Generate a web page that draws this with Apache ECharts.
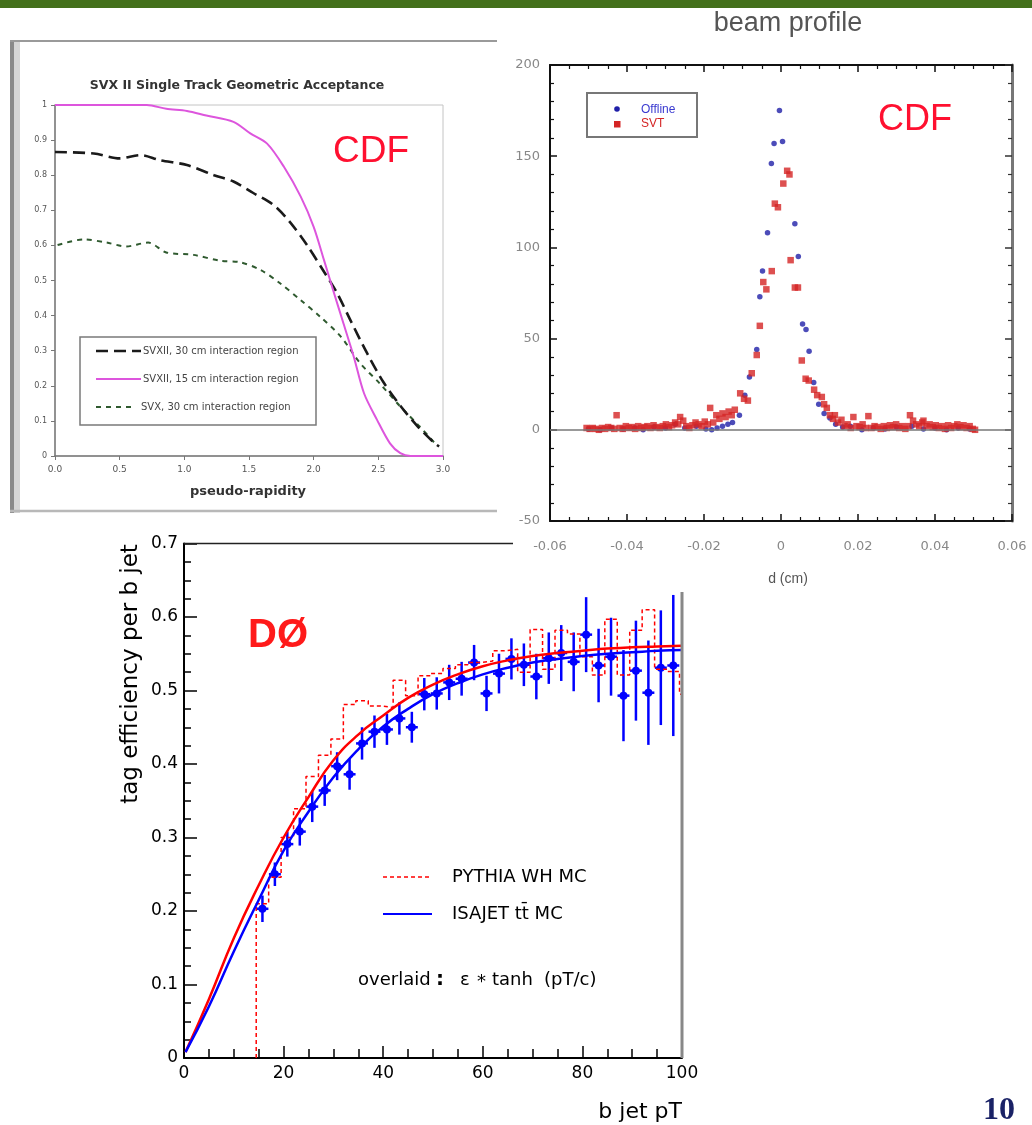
<!DOCTYPE html>
<html><head><meta charset="utf-8">
<script src="https://cdn.jsdelivr.net/npm/echarts@6.0.0/dist/echarts.min.js"></script>
<style>html,body{margin:0;padding:0;background:#fff}#c{width:1032px;height:1125px}</style>
</head><body><div id="c"></div><script>
// ---------- Chart 1: SVX II single track geometric acceptance ----------
var etaPink = [0, 0.3, 0.71, 0.86, 1.02, 1.17, 1.38, 1.51, 1.64, 1.77, 1.9, 2.0, 2.08, 2.15, 2.23, 2.31, 2.39, 2.49, 2.59, 2.67, 2.75, 3.0];
var accPink = [1, 1, 1, 0.989, 0.983, 0.97, 0.952, 0.919, 0.89, 0.824, 0.739, 0.653, 0.558, 0.473, 0.378, 0.283, 0.178, 0.103, 0.036, 0.008, 0, 0];
var etaBlack = [0, 0.3, 0.5, 0.66, 0.81, 1.02, 1.23, 1.38, 1.53, 1.69, 1.82, 1.95, 2.08, 2.18, 2.28, 2.41, 2.54, 2.67, 2.8, 2.93, 2.97];
var accBlack = [0.866, 0.862, 0.848, 0.857, 0.843, 0.829, 0.8, 0.782, 0.75, 0.715, 0.665, 0.6, 0.525, 0.465, 0.39, 0.295, 0.21, 0.143, 0.086, 0.038, 0.027];
var etaGreen = [0.02, 0.22, 0.4, 0.55, 0.72, 0.86, 1.07, 1.28, 1.43, 1.59, 1.74, 1.9, 2.05, 2.21, 2.36, 2.51, 2.67, 2.82, 2.95];
var accGreen = [0.601, 0.617, 0.608, 0.597, 0.608, 0.58, 0.573, 0.556, 0.552, 0.53, 0.492, 0.444, 0.397, 0.34, 0.264, 0.207, 0.141, 0.084, 0.031];
var svxLegend = ['SVXII, 30 cm interaction region', 'SVXII, 15 cm interaction region', 'SVX, 30 cm interaction region'];

// ---------- Chart 2: beam profile ----------
var dSvt = [-0.0505,-0.0497,-0.0489,-0.0481,-0.0473,-0.0465,-0.0457,-0.0449,-0.0441,-0.0433,-0.0427,-0.0419,-0.0411,-0.0403,-0.0395,-0.0387,-0.0379,-0.0371,-0.0363,-0.0355,-0.0347,-0.0339,-0.0331,-0.0323,-0.0315,-0.0307,-0.0299,-0.0291,-0.0283,-0.0275,-0.0267,-0.0262,-0.0254,-0.0246,-0.0238,-0.023,-0.0222,-0.0214,-0.0206,-0.0198,-0.019,-0.0184,-0.0176,-0.0168,-0.016,-0.0152,-0.0144,-0.0136,-0.0128,-0.012,-0.0106,-0.0096,-0.0086,-0.0076,-0.0063,-0.0055,-0.0046,-0.0038,-0.0024,-0.0016,-0.0008,0.0006,0.0016,0.0022,0.0025,0.0036,0.0044,0.0054,0.0064,0.0072,0.0086,0.0094,0.0106,0.0112,0.0119,0.0127,0.0135,0.014,0.0148,0.0157,0.0165,0.0173,0.0181,0.0188,0.0196,0.0204,0.0212,0.022,0.0227,0.0235,0.0243,0.0251,0.0259,0.0267,0.0275,0.0283,0.0291,0.0299,0.0307,0.0315,0.0323,0.0331,0.0335,0.0343,0.0351,0.0359,0.0367,0.037,0.0378,0.0386,0.0394,0.0402,0.041,0.0418,0.0426,0.0434,0.0442,0.045,0.0458,0.0466,0.0474,0.0482,0.049,0.0498,0.0504];
var nSvt = [1,0.5,1,0.5,0,1,0.5,1.5,1,0.5,8,1,0.5,2,1,1.5,0.5,2,1,1.5,2,1,2.5,1.5,1,2,3,1.5,2.5,4,3,7,5,2,1,2.5,4,3,2,4.5,3,12,4,8,6,9,7,10,8,11,20,17,16,31,41,57,81,77,87,124,122,135,142,140,93,78,78,38,28,27,22,19,18,14,12,8,6,8,4,5.5,2,3,1,7,2,1.5,3,1,7.5,1,2,1.5,0.5,2,1,2.5,1.5,3,1,2,0.5,2,8,5,3,2,4,5,2,3,1.5,2.5,1,2,0.5,2.5,1,2,3,1.5,2.5,1,2,0.5,0];
var dOff = [-0.05,-0.047,-0.044,-0.041,-0.038,-0.0358,-0.033,-0.03,-0.0275,-0.025,-0.022,-0.0195,-0.018,-0.0166,-0.0152,-0.0138,-0.0126,-0.0108,-0.0094,-0.0082,-0.0063,-0.0055,-0.0048,-0.0035,-0.0025,-0.0018,-0.0004,0.0004,0.0036,0.0045,0.0056,0.0065,0.0073,0.0085,0.0098,0.0112,0.0127,0.0142,0.016,0.018,0.021,0.024,0.027,0.03,0.034,0.037,0.04,0.043,0.046,0.049];
var nOff = [0.5,0,1,0.5,1,0,1.5,1,3,1,2,0.5,0,1,2,3,4,8,19,29,44,73,87,108,146,157,175,158,113,95,58,55,43,26,14,9,6.5,3,1.5,2,0,1,0.5,1.5,2,0.5,1,0,1,0.5];

// ---------- Chart 3: DØ tag efficiency ----------
var histEdges = [14.5,17,19.5,22,24.5,27,29.5,32,34.5,37,39.5,42,44.5,47,49.5,52,54.5,57,59.5,62,64.5,67,69.5,72,74.5,77,79.5,82,84.5,87,89.5,92,94.5,97,99.5,100];
var histPythia = [0.21,0.246,0.30,0.339,0.383,0.412,0.434,0.481,0.486,0.479,0.477,0.514,0.493,0.52,0.523,0.530,0.535,0.538,0.540,0.554,0.556,0.525,0.583,0.529,0.582,0.577,0.546,0.521,0.597,0.521,0.582,0.61,0.529,0.526,0.495];
var bluePt  = [15.75,18.25,20.75,23.25,25.75,28.25,30.75,33.25,35.75,38.25,40.75,43.25,45.75,48.25,50.75,53.25,55.75,58.25,60.75,63.25,65.75,68.25,70.75,73.25,75.75,78.25,80.75,83.25,85.75,88.25,90.75,93.25,95.75,98.25];
var blueEff = [0.203,0.25,0.291,0.308,0.342,0.364,0.397,0.386,0.428,0.444,0.447,0.462,0.45,0.495,0.496,0.511,0.516,0.538,0.496,0.523,0.543,0.535,0.519,0.544,0.551,0.539,0.576,0.534,0.546,0.493,0.527,0.497,0.531,0.534];
var blueLo  = [0.185,0.234,0.274,0.289,0.321,0.343,0.378,0.365,0.406,0.422,0.426,0.44,0.429,0.473,0.474,0.487,0.493,0.514,0.472,0.496,0.515,0.506,0.488,0.509,0.513,0.499,0.525,0.484,0.493,0.431,0.459,0.426,0.453,0.438];
var blueHi  = [0.221,0.266,0.308,0.327,0.363,0.385,0.416,0.407,0.45,0.466,0.468,0.484,0.471,0.517,0.518,0.535,0.539,0.562,0.52,0.55,0.571,0.564,0.55,0.579,0.589,0.579,0.627,0.584,0.599,0.555,0.595,0.568,0.609,0.63];
var binHalf = 1.2;
var curvePt = [0.3,5,10,15,20,25,30,35,40,45,50,55,60,65,70,75,80,85,90,95,100];
var redFit  = [0.008,0.08,0.163,0.235,0.30,0.355,0.405,0.44,0.466,0.49,0.508,0.522,0.533,0.541,0.547,0.551,0.554,0.557,0.559,0.56,0.561];
var blueFit = [0.008,0.07,0.145,0.215,0.282,0.335,0.382,0.42,0.451,0.475,0.495,0.51,0.522,0.531,0.538,0.543,0.547,0.55,0.552,0.554,0.555];

function pairs(xs, ys){ return xs.map(function(x,i){ return [x, ys[i]]; }); }
var histData = [[histEdges[0], 0]];
for (var k = 0; k < histPythia.length; k++) histData.push([histEdges[k], histPythia[k]]);
histData.push([histEdges[histEdges.length-1], histPythia[histPythia.length-1]]);
var blueData = bluePt.map(function(x,i){ return [x, blueEff[i], blueLo[i], blueHi[i]]; });

var F1 = 'Liberation Sans';
var F3 = 'DejaVu Sans';
function txt(x, y, s, font, fill, align, extra){
  var o = {type:'text', x:x, y:y, z:100, style:{text:s, font:font, fill:fill, textAlign:align||'left', textVerticalAlign:'middle', verticalAlign:'middle'}};
  if (extra) for (var k in extra) o[k] = extra[k];
  return o;
}
function ln(x1,y1,x2,y2,color,w,dash){
  return {type:'line', z:100, shape:{x1:x1,y1:y1,x2:x2,y2:y2}, style:{stroke:color, lineWidth:w, lineDash:dash||null}};
}

var chart = echarts.init(document.getElementById('c'), null, {renderer:'canvas'});
var option = {
  animation:false,
  backgroundColor:'#ffffff',
  textStyle:{fontFamily:F1},
  grid:[
    {left:55, top:105, width:388, height:351, show:true, borderColor:'#c4c4c4', borderWidth:1, backgroundColor:'transparent'},
    {left:550, top:65, width:462, height:456},
    {left:184, top:543.5, width:498, height:514.5}
  ],
  xAxis:[
    {type:'value', gridIndex:0, min:0, max:3, interval:0.5,
     axisLine:{onZero:false, lineStyle:{color:'#777', width:1.5}},
     axisTick:{show:true, length:4, lineStyle:{color:'#777'}},
     axisLabel:{fontSize:9, color:'#555', margin:9, fontFamily:F3, formatter:function(v){return v.toFixed(1);}},
     splitLine:{show:false}},
    {type:'value', gridIndex:1, min:-0.06, max:0.06, interval:0.02,
     axisLine:{onZero:false, lineStyle:{color:'#111', width:2}},
     axisTick:{show:true, inside:true, length:7, lineStyle:{color:'#111', width:1.5}},
     minorTick:{show:true, splitNumber:4, length:4, lineStyle:{color:'#111', width:1.2}},
     axisLabel:{fontSize:13, color:'#888', margin:19, fontFamily:F3, formatter:function(v){ return Math.abs(v)<1e-9 ? '0' : v.toFixed(2); }},
     splitLine:{show:false}},
    {type:'value', gridIndex:1, position:'top', min:-0.06, max:0.06, interval:0.02,
     axisLine:{onZero:false, lineStyle:{color:'#111', width:2}},
     axisTick:{show:true, inside:true, length:7, lineStyle:{color:'#111', width:1.5}},
     minorTick:{show:true, splitNumber:4, length:4, lineStyle:{color:'#111', width:1.2}},
     axisLabel:{show:false}, splitLine:{show:false}},
    {type:'value', gridIndex:2, min:0, max:100, interval:20,
     axisLine:{onZero:false, lineStyle:{color:'#000', width:2}},
     axisTick:{show:true, inside:true, length:12, lineStyle:{color:'#000', width:1.5}},
     minorTick:{show:true, splitNumber:4, length:9, lineStyle:{color:'#000', width:1.5}},
     axisLabel:{fontSize:17, color:'#000', margin:7, fontFamily:F3},
     splitLine:{show:false}}
  ],
  yAxis:[
    {type:'value', gridIndex:0, min:0, max:1, interval:0.1,
     axisLine:{show:true, onZero:false, lineStyle:{color:'#777', width:1.5}},
     axisTick:{show:true, length:4, lineStyle:{color:'#777'}},
     axisLabel:{fontSize:8, color:'#555', margin:8, fontFamily:F3, formatter:function(v){ return (v===0)?'0':(Math.abs(v-1)<1e-9?'1':v.toFixed(1)); }},
     splitLine:{show:false}},
    {type:'value', gridIndex:1, min:-50, max:200, interval:50,
     axisLine:{show:true, onZero:false, lineStyle:{color:'#111', width:2}},
     axisTick:{show:true, inside:true, length:7, lineStyle:{color:'#111', width:1.5}},
     minorTick:{show:true, splitNumber:5, length:4, lineStyle:{color:'#111', width:1.2}},
     axisLabel:{fontSize:13, color:'#888', margin:10, fontFamily:F3},
     splitLine:{show:false}},
    {type:'value', gridIndex:1, position:'right', min:-50, max:200, interval:50,
     axisLine:{show:true, onZero:false, lineStyle:{color:'#777', width:3}},
     axisTick:{show:true, inside:true, length:7, lineStyle:{color:'#333', width:1.5}},
     minorTick:{show:true, splitNumber:5, length:4, lineStyle:{color:'#333', width:1.2}},
     axisLabel:{show:false}, splitLine:{show:false}},
    {type:'value', gridIndex:2, min:0, max:0.7, interval:0.1,
     axisLine:{show:true, onZero:false, lineStyle:{color:'#000', width:2}},
     axisTick:{show:true, inside:true, length:13, lineStyle:{color:'#000', width:1.5}},
     minorTick:{show:true, splitNumber:4, length:7, lineStyle:{color:'#000', width:1.5}},
     axisLabel:{fontSize:17, color:'#000', margin:6, fontFamily:F3, formatter:function(v){ return v===0?'0':v.toFixed(1); }},
     splitLine:{show:false}}
  ],
  series:[
    {name:svxLegend[2], type:'line', xAxisIndex:0, yAxisIndex:0, data:pairs(etaGreen, accGreen), smooth:0.3, showSymbol:false,
     lineStyle:{color:'#2f5a2f', width:2, type:[5,5]}},
    {name:svxLegend[0], type:'line', xAxisIndex:0, yAxisIndex:0, data:pairs(etaBlack, accBlack), smooth:0.3, showSymbol:false,
     lineStyle:{color:'#1a1a1a', width:2.6, type:[12,6]}},
    {name:svxLegend[1], type:'line', xAxisIndex:0, yAxisIndex:0, data:pairs(etaPink, accPink), smooth:0.3, showSymbol:false,
     lineStyle:{color:'#dd55dd', width:2}},
    {name:'Offline', type:'scatter', xAxisIndex:1, yAxisIndex:1, data:pairs(dOff, nOff), symbol:'circle', symbolSize:5.5,
     itemStyle:{color:'#1f1fa8'},
     markLine:{silent:true, symbol:'none', label:{show:false}, data:[{yAxis:0}], lineStyle:{color:'#777', width:1.5, type:'solid'}}},
    {name:'SVT', type:'scatter', xAxisIndex:1, yAxisIndex:1, data:pairs(dSvt, nSvt), symbol:'rect', symbolSize:6.5,
     itemStyle:{color:'#d42424'}},
    {name:'PYTHIA WH MC', type:'line', xAxisIndex:3, yAxisIndex:3, data:histData, step:'end', showSymbol:false,
     lineStyle:{color:'#ff0000', width:1.5, type:[4,3]}},
    {name:'red fit', type:'line', xAxisIndex:3, yAxisIndex:3, data:pairs(curvePt, redFit), smooth:true, showSymbol:false,
     lineStyle:{color:'#ff0000', width:2.5}},
    {name:'ISAJET fit', type:'line', xAxisIndex:3, yAxisIndex:3, data:pairs(curvePt, blueFit), smooth:true, showSymbol:false,
     lineStyle:{color:'#0000ff', width:2.5}},
    {name:'ISAJET tt MC', type:'custom', xAxisIndex:3, yAxisIndex:3, data:blueData,
     encode:{x:0, y:1},
     renderItem:function(params, api){
       var x = api.value(0), y = api.value(1), lo = api.value(2), hi = api.value(3);
       var p = api.coord([x, y]), pl = api.coord([x, lo]), ph = api.coord([x, hi]);
       var xl = api.coord([x - binHalf, y]), xr = api.coord([x + binHalf, y]);
       return {type:'group', children:[
         {type:'line', shape:{x1:p[0], y1:pl[1], x2:p[0], y2:ph[1]}, style:{stroke:'#0000ff', lineWidth:2.5}},
         {type:'line', shape:{x1:xl[0], y1:p[1], x2:xr[0], y2:p[1]}, style:{stroke:'#0000ff', lineWidth:2.5}},
         {type:'circle', shape:{cx:p[0], cy:p[1], r:4}, style:{fill:'#0000ff'}}
       ]};
     }}
  ],
  graphic:{elements:[
    {type:'rect', z:100, shape:{x:0, y:0, width:1032, height:8}, style:{fill:'#44701b'}},
    // chart 1 panel frame
    {type:'rect', z:100, shape:{x:10, y:40, width:4, height:473}, style:{fill:'#8a8a8a'}},
    {type:'rect', z:100, shape:{x:14, y:40, width:6, height:473}, style:{fill:'#d6d6d6'}},
    ln(10, 41, 497, 41, '#9a9a9a', 2),
    ln(10, 511, 497, 511, '#b8b8b8', 2.5),
    txt(237, 86, 'SVX II Single Track Geometric Acceptance', 'bold 12.5px ' + F3, '#333', 'center'),
    txt(248, 492, 'pseudo-rapidity', 'bold 13px ' + F3, '#333', 'center'),
    {type:'rect', z:100, shape:{x:80, y:337, width:236, height:88}, style:{fill:'none', stroke:'#7a7a7a', lineWidth:1.5}},
    ln(96, 351, 141, 351, '#1a1a1a', 2.6, [12,6]),
    ln(96, 379, 141, 379, '#dd55dd', 2),
    ln(96, 407, 136, 407, '#2f5a2f', 2, [5,5]),
    txt(143, 351, svxLegend[0], '10px ' + F3, '#444'),
    txt(143, 379, svxLegend[1], '10px ' + F3, '#444'),
    txt(141, 407, svxLegend[2], '10px ' + F3, '#444'),
    txt(333, 152, 'CDF', '37px ' + F1, '#ff1030'),
    // chart 2
    txt(788, 24, 'beam profile', '27px ' + F1, '#555', 'center'),
    txt(788, 579, 'd (cm)', '14px ' + F1, '#555', 'center'),
    {type:'rect', z:100, shape:{x:587, y:93, width:110, height:44}, style:{fill:'#fff', stroke:'#777', lineWidth:2}},
    {type:'circle', z:101, shape:{cx:617, cy:109, r:2.8}, style:{fill:'#1f1fa8'}},
    {type:'rect', z:101, shape:{x:614, y:121, width:6.5, height:6.5}, style:{fill:'#d42424'}},
    txt(641, 110, 'Offline', '12px ' + F1, '#3a3ad0'),
    txt(641, 124, 'SVT', '12px ' + F1, '#d42424'),
    txt(878, 120, 'CDF', '36px ' + F1, '#ff1030'),
    // chart 3
    ln(184, 543.5, 513, 543.5, '#222', 1.5),
    ln(682, 592, 682, 1058, '#888', 3),
    txt(248, 636, 'DØ', 'bold 40px ' + F1, '#ff1a1a'),
    ln(383, 877, 432, 877, '#ff0000', 1.5, [4,3]),
    ln(383, 914, 432, 914, '#0000ff', 2),
    txt(452, 877, 'PYTHIA WH MC', '18px ' + F3, '#000'),
    txt(452, 914, 'ISAJET tt\u0304 MC', '18px ' + F3, '#000'),
    txt(358, 980, 'overlaid', '18px ' + F3, '#000'),
    txt(436, 980, ':', 'bold 20px ' + F3, '#000'),
    txt(460, 980, '\u03b5', '18px ' + F3, '#000'),
    txt(477, 982, '*', '18px ' + F3, '#000'),
    txt(492, 980, 'tanh', '18px ' + F3, '#000'),
    txt(544, 980, '(pT/c)', '18px ' + F3, '#000'),
    txt(131, 674, 'tag efficiency per b jet', '23px ' + F3, '#000', 'center', {rotation:Math.PI/2}),
    txt(682, 1112, 'b jet pT', '22px ' + F3, '#000', 'right'),
    txt(1015, 1111, '10', 'bold 32px Liberation Serif', '#1a2266', 'right')
  ]}
};
chart.setOption(option);
</script></body></html>
